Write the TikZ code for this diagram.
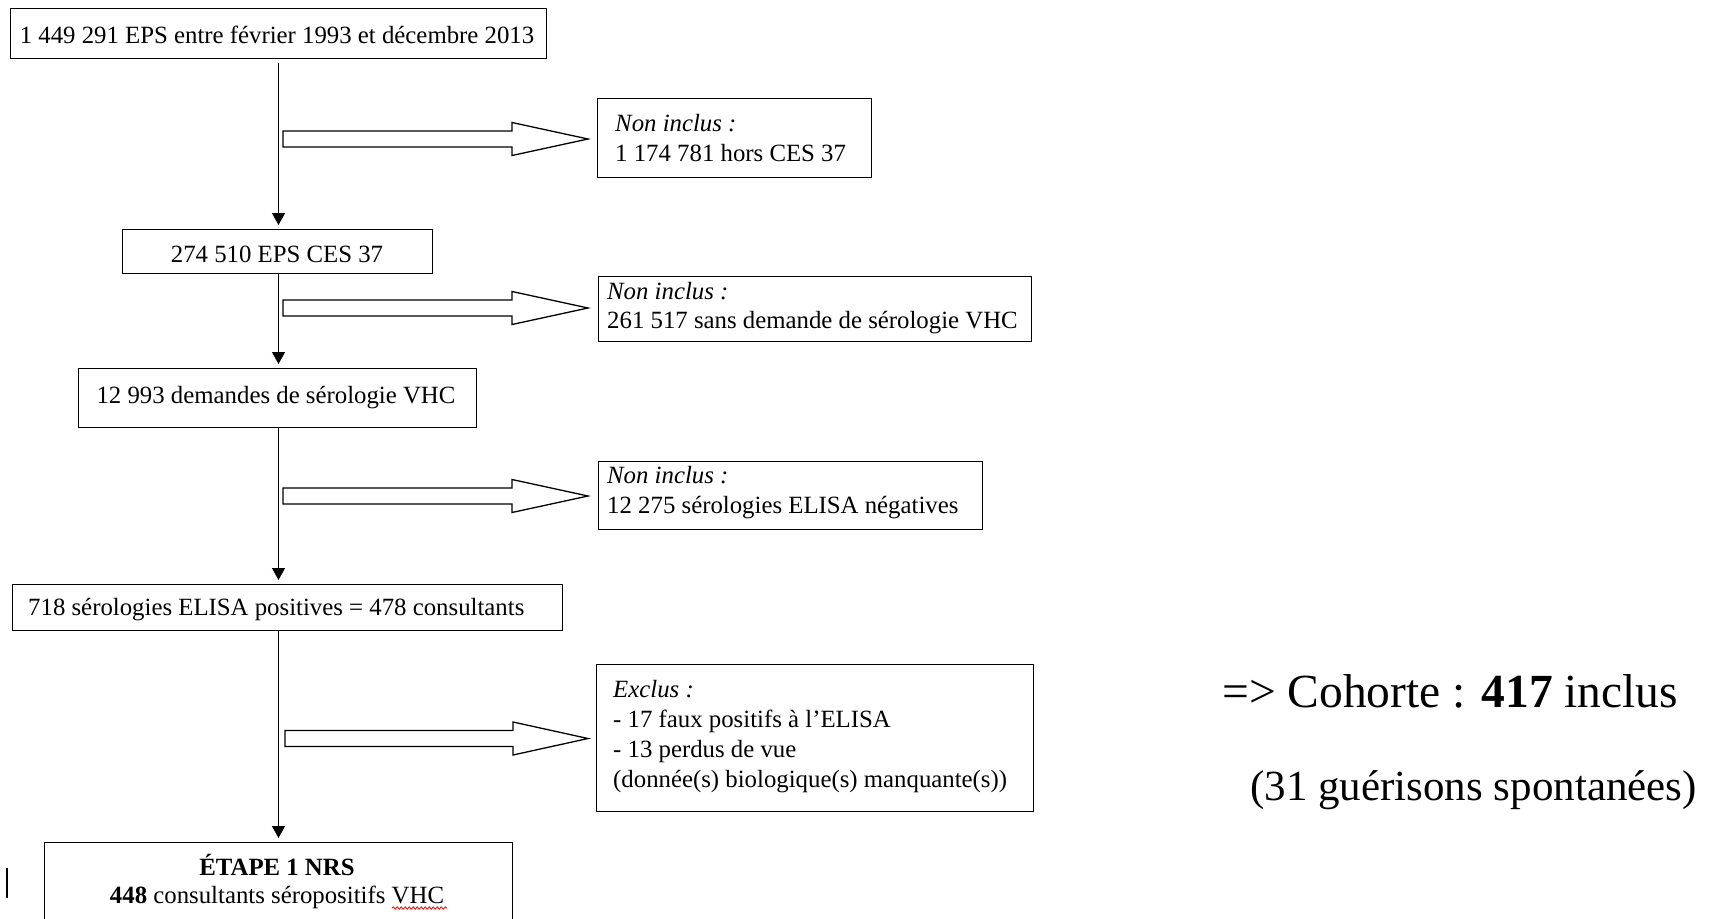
\documentclass[tikz,border=0pt]{standalone}
\usepackage{fontspec}
\setmainfont{Liberation Serif}
\usetikzlibrary{arrows.meta,decorations.pathmorphing}
\newcommand{\hollowarrow}[3]{%
  \draw[hollow] (#1,#2-8) -- (#3,#2-8) -- (#3,#2-16.5) -- (588,#2) -- (#3,#2+16.5) -- (#3,#2+8) -- (#1,#2+8) -- cycle;}
\begin{document}
\begin{tikzpicture}[x=1pt,y=-1pt,
  box/.style={draw, line width=1.3pt, rectangle, inner sep=0pt, anchor=north west},
  txt/.style={inner sep=0pt, font=\fontsize{24.8}{30}\selectfont},
  flow/.style={line width=1.3pt, -{Triangle[length=12pt,width=13pt]}, shorten >=4pt},
  hollow/.style={draw, line width=1.3pt, line join=miter, fill=white}]
\clip (0,0) rectangle (1710,918);
\fill[white] (0,0) rectangle (1710,918);

% main column boxes
\node[box, minimum width=536pt, minimum height=50pt] (b1) at (10,8) {};
\node[txt, anchor=base] (t1) at (277,43) {1 449 291 EPS entre février 1993 et décembre 2013};

\node[box, minimum width=310pt, minimum height=44pt] (b2) at (122,229) {};
\node[txt, anchor=base] (t2) at (277,262) {274 510 EPS CES 37};

\node[box, minimum width=398pt, minimum height=59pt] (b3) at (78,368) {};
\node[txt, anchor=base] (t3) at (276,403) {12 993 demandes de sérologie VHC};

\node[box, minimum width=550pt, minimum height=46pt] (b4) at (12,584) {};
\node[txt, anchor=base west] (t4) at (28,615) {718 sérologies ELISA positives = 478 consultants};

\node[box, minimum width=468pt, minimum height=110pt] (b5) at (44,842) {};
\node[txt, anchor=base] (t5a) at (277,875) {\textbf{ÉTAPE 1 NRS}};
\node[txt, anchor=base] (t5b) at (277,903) {\textbf{448} consultants séropositifs VHC};

% side boxes
\node[box, minimum width=274pt, minimum height=79pt] (bA) at (597,98) {};
\node[txt, anchor=base west] (tA1) at (615,131) {\textit{Non inclus :}};
\node[txt, anchor=base west] (tA2) at (615,161) {1 174 781 hors CES 37};

\node[box, minimum width=433pt, minimum height=65pt] (bB) at (598,276) {};
\node[txt, anchor=base west] (tB1) at (607,299) {\textit{Non inclus :}};
\node[txt, anchor=base west] (tB2) at (607,328) {261 517 sans demande de sérologie VHC};

\node[box, minimum width=384pt, minimum height=68pt] (bC) at (598,461) {};
\node[txt, anchor=base west] (tC1) at (607,483) {\textit{Non inclus :}};
\node[txt, anchor=base west] (tC2) at (607,513) {12 275 sérologies ELISA négatives};

\node[box, minimum width=437pt, minimum height=147pt] (bD) at (596,664) {};
\node[txt, anchor=base west] (tD1) at (613,697) {\textit{Exclus :}};
\node[txt, anchor=base west] (tD2) at (613,727) {- 17 faux positifs à l’ELISA};
\node[txt, anchor=base west] (tD3) at (613,757) {- 13 perdus de vue};
\node[txt, anchor=base west] (tD4) at (613,787) {(donnée(s) biologique(s) manquante(s))};

% vertical flow
\coordinate (ax) at (278.5,0);
\draw[flow, shorten <=4pt] (b1.south -| ax) -- (b2.north -| ax);
\draw[flow] (b2.south -| ax) -- (b3.north -| ax);
\draw[flow] (b3.south -| ax) -- (b4.north -| ax);
\draw[flow] (b4.south -| ax) -- (b5.north -| ax);

% hollow side arrows
\hollowarrow{283}{139}{512}
\hollowarrow{283}{308}{512}
\hollowarrow{283}{496}{512}
\hollowarrow{285}{738.5}{513}

% spell-check underline and cursor
\draw[red, line width=0.8pt, decorate, decoration={snake, amplitude=1.2pt, segment length=4pt}] (392,908) -- (447,908);
\draw[line width=1.5pt] (7,868) -- (7,898);

% right text
\node[inner sep=0pt, anchor=base west, font=\fontsize{47.5}{50}\selectfont] (coh) at (1222,707) {=> Cohorte : \textbf{417} inclus};
\node[inner sep=0pt, anchor=base west, font=\fontsize{43}{50}\selectfont] (gue) at (1250,800) {(31 guérisons spontanées)};
\end{tikzpicture}
\end{document}
